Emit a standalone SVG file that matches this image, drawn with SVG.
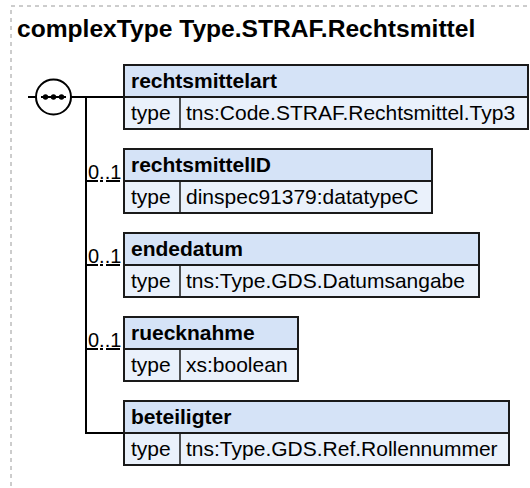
<svg xmlns="http://www.w3.org/2000/svg" width="530" height="488" viewBox="0 0 530 488">
<style>
text{font-family:"Liberation Sans",Arial,sans-serif;fill:#000}
.title{font-size:24.6px;font-weight:bold}
.hd{font-size:21px;font-weight:bold}
.tx{font-size:21px}
.card{font-size:20px}
.head{fill:#d5e3f7;stroke:#1a1a1a;stroke-width:2}
.row{fill:#eaf1fb;stroke:#1a1a1a;stroke-width:2}
.div{stroke:#1a1a1a;stroke-width:1.5}
.ln{stroke:#000;stroke-width:2;fill:none}
.opt{stroke-dasharray:12,2,3,3,14,3}
</style>
<rect x="11" y="6" width="700" height="700" fill="#fff" stroke="#9a9a9a" stroke-width="1" stroke-dasharray="4,4"/>
<text class="title" x="17" y="37">complexType Type.STRAF.Rechtsmittel</text>
<g id="connectors">
<line class="ln" x1="28" y1="97" x2="36" y2="97"/>
<line class="ln" x1="71" y1="97" x2="124" y2="97"/>
<line class="ln" x1="86" y1="97" x2="86" y2="434"/>
<line class="ln opt" x1="86" y1="181" x2="124" y2="181"/>
<line class="ln opt" x1="86" y1="265" x2="124" y2="265"/>
<line class="ln opt" x1="86" y1="349" x2="124" y2="349"/>
<line class="ln" x1="85" y1="433" x2="124" y2="433"/>
<text class="card" x="88" y="179">0..1</text>
<text class="card" x="88" y="263">0..1</text>
<text class="card" x="88" y="347">0..1</text>
</g>
<g id="sequence">
<circle cx="53.5" cy="97" r="17.5" fill="#fff" stroke="#000" stroke-width="2"/>
<line x1="41" y1="97" x2="66" y2="97" stroke="#000" stroke-width="2"/>
<circle cx="45.5" cy="97" r="2.7" fill="#000"/>
<circle cx="53.5" cy="97" r="2.7" fill="#000"/>
<circle cx="61.5" cy="97" r="2.7" fill="#000"/>
</g>
<g id="rechtsmittelart">
<rect class="head" x="124" y="65" width="404" height="32"/>
<rect class="row" x="124" y="97" width="404" height="32"/>
<line class="div" x1="180" y1="97" x2="180" y2="129"/>
<text class="hd" x="131" y="87.5">rechtsmittelart</text>
<text class="tx" x="131" y="120">type</text>
<text class="tx" x="186" y="120">tns:Code.STRAF.Rechtsmittel.Typ3</text>
</g>
<g id="rechtsmittelID">
<rect class="head" x="124" y="149" width="308" height="32"/>
<rect class="row" x="124" y="181" width="308" height="32"/>
<line class="div" x1="180" y1="181" x2="180" y2="213"/>
<text class="hd" x="131" y="171.5">rechtsmittelID</text>
<text class="tx" x="131" y="204">type</text>
<text class="tx" x="186" y="204">dinspec91379:datatypeC</text>
</g>
<g id="endedatum">
<rect class="head" x="124" y="233" width="355" height="32"/>
<rect class="row" x="124" y="265" width="355" height="32"/>
<line class="div" x1="180" y1="265" x2="180" y2="297"/>
<text class="hd" x="131" y="255.5">endedatum</text>
<text class="tx" x="131" y="288">type</text>
<text class="tx" x="186" y="288">tns:Type.GDS.Datumsangabe</text>
</g>
<g id="ruecknahme">
<rect class="head" x="124" y="317" width="174" height="32"/>
<rect class="row" x="124" y="349" width="174" height="32"/>
<line class="div" x1="180" y1="349" x2="180" y2="381"/>
<text class="hd" x="131" y="339.5">ruecknahme</text>
<text class="tx" x="131" y="372">type</text>
<text class="tx" x="186" y="372">xs:boolean</text>
</g>
<g id="beteiligter">
<rect class="head" x="124" y="401" width="385" height="32"/>
<rect class="row" x="124" y="433" width="385" height="32"/>
<line class="div" x1="180" y1="433" x2="180" y2="465"/>
<text class="hd" x="131" y="423.5">beteiligter</text>
<text class="tx" x="131" y="456">type</text>
<text class="tx" x="186" y="456">tns:Type.GDS.Ref.Rollennummer</text>
</g>
</svg>
